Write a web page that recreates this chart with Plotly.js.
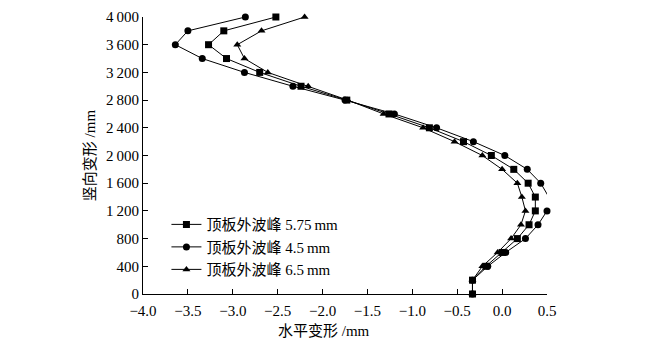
<!DOCTYPE html>
<html><head><meta charset="utf-8">
<script src="https://cdn.plot.ly/plotly-3.0.1.min.js"></script>
<style>html,body{margin:0;padding:0;background:#fff;}</style>
</head><body>
<div id="chart" style="width:670px;height:352px;"></div>
<script>
const heights = [0,200,400,600,800,1000,1200,1400,1600,1800,2000,2200,2400,2600,2800,3000,3200,3400,3600,3800,4000];
const x575 = [-0.33,-0.33,-0.18,0.00,0.17,0.30,0.37,0.37,0.29,0.13,-0.12,-0.43,-0.81,-1.26,-1.73,-2.24,-2.70,-3.07,-3.27,-3.10,-2.52];
const x45  = [-0.33,-0.33,-0.16,0.04,0.26,0.40,0.50,0.52,0.43,0.28,0.03,-0.32,-0.73,-1.20,-1.75,-2.33,-2.87,-3.34,-3.64,-3.50,-2.86];
const x65  = [-0.33,-0.33,-0.22,-0.05,0.10,0.21,0.26,0.22,0.17,0.00,-0.22,-0.53,-0.88,-1.32,-1.72,-2.16,-2.61,-2.87,-2.95,-2.68,-2.20];
const names = ['顶板外波峰 5.75\u2009mm','顶板外波峰 4.5\u2009mm','顶板外波峰 6.5\u2009mm'];
const yTickVals = [0,400,800,1200,1600,2000,2400,2800,3200,3600,4000];
const yTickText = ['0','400','800','1\u2009200','1\u2009600','2\u2009000','2\u2009400','2\u2009800','3\u2009200','3\u2009600','4\u2009000'];
const xTickVals = [-4.0,-3.5,-3.0,-2.5,-2.0,-1.5,-1.0,-0.5,0.0,0.5];
const xTitle = '水平变形 /mm';
const yTitle = '竖向变形 /mm';

const FONT = 'Liberation Serif, Times New Roman, Noto Sans CJK SC, serif';
function tr(x, name, sym){
  return {x:x, y:heights, name:name, type:'scatter', mode:'lines+markers', cliponaxis:false,
    line:{color:'#000', width:1}, marker:{symbol:sym, size:7, color:'#000'}};
}
const data = [tr(x575,names[0],'square'), tr(x45,names[1],'circle'), tr(x65,names[2],'triangle-up')];
const layout = {
  width:670, height:352,
  margin:{l:143, r:123, t:17, b:58},
  paper_bgcolor:'#fff', plot_bgcolor:'#fff',
  font:{family:FONT, size:15, color:'#000'},
  showlegend:true,
  legend:{x:0.058, y:0.31, xanchor:'left', yanchor:'top', bgcolor:'rgba(0,0,0,0)',
    font:{family:FONT, size:15}, tracegroupgap:0, itemwidth:30},
  xaxis:{range:[-4,0.5], tickvals:xTickVals, tickformat:'.1f', ticks:'inside', ticklen:5,
    tickcolor:'#000', showline:true, linecolor:'#000', linewidth:1, showgrid:false, zeroline:false,
    tickfont:{size:15}, ticklabelstandoff:3},
  yaxis:{range:[0,4000], tickvals:yTickVals, ticktext:yTickText, ticks:'inside', ticklen:5,
    tickcolor:'#000', showline:true, linecolor:'#000', linewidth:1, showgrid:false, zeroline:false,
    tickfont:{size:15}, title:{text:yTitle, font:{size:15}, standoff:6}},
  annotations:[{text:xTitle, xref:'paper', yref:'paper', x:0.448, y:-0.134,
    xanchor:'center', yanchor:'middle', showarrow:false, font:{family:FONT, size:15}}]
};
Plotly.newPlot('chart', data, layout, {displayModeBar:false, staticPlot:true});
</script>
</body></html>
